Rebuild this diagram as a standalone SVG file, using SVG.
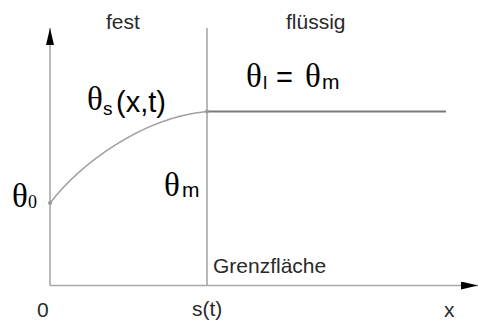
<svg xmlns="http://www.w3.org/2000/svg" width="478" height="322" viewBox="0 0 478 322">
<style>
.lbl{font-family:"Liberation Sans",Arial,sans-serif;font-size:21px;fill:#2a2a2a}
.gr{font-family:"Liberation Serif","Times New Roman",serif;font-size:33px;fill:#000}
.sub{font-family:"Liberation Sans",Arial,sans-serif;fill:#000}
.ax{stroke:#a8a8a8;stroke-width:1.6;fill:none}
</style>
<defs>
<marker id="arr" viewBox="0 0 17 8" refX="17" refY="4" markerWidth="17" markerHeight="8" markerUnits="userSpaceOnUse" orient="auto">
<path d="M0,0 L17,4 L0,8 Z" fill="#000"/>
</marker>
</defs>
<rect width="478" height="322" fill="#fff"/>
<g id="connectors">
<line class="ax" x1="50" y1="285.5" x2="50" y2="28" marker-end="url(#arr)"/>
<line class="ax" x1="50" y1="285.5" x2="478" y2="285.5" marker-end="url(#arr)"/>
<line class="ax" x1="207" y1="28" x2="207" y2="285.5"/>
<line x1="207" y1="111.5" x2="446" y2="111.5" stroke="#7a7a7a" stroke-width="1.8"/>
<path d="M50,203 C80,165 140,118 207,111.5" stroke="#a0a0a0" stroke-width="1.6" fill="none"/>
<circle cx="50" cy="203" r="2" fill="#999"/>
<circle cx="207" cy="111.5" r="2" fill="#999"/>
</g>
<g id="region-labels">
<text class="lbl" x="106" y="29">fest</text>
<text class="lbl" x="286" y="29">flüssig</text>
<text class="lbl" x="213" y="273">Grenzfläche</text>
<text class="lbl" x="37" y="317">0</text>
<text class="lbl" x="192" y="316">s(t)</text>
<text class="lbl" x="444" y="317">x</text>
</g>
<g id="theta-s">
<text class="gr" x="87" y="110">θ</text>
<text class="sub" x="103" y="115" style="font-size:19px">s</text>
<text class="sub" x="116" y="112" style="font-size:29px">(x,t)</text>
</g>
<g id="theta-l">
<text class="gr" x="246" y="87">θ</text>
<text class="sub" x="263" y="89" style="font-size:19px">l</text>
<text class="sub" x="276" y="87" style="font-size:29px">=</text>
<text class="gr" x="305" y="87">θ</text>
<text class="sub" x="322" y="89" style="font-size:21px">m</text>
</g>
<g id="theta-0">
<text class="gr" x="12" y="207">θ</text>
<text class="gr" x="28" y="208" style="font-size:18px">0</text>
</g>
<g id="theta-m">
<text class="gr" x="164" y="196">θ</text>
<text class="sub" x="182" y="197" style="font-size:21px">m</text>
</g>
</svg>
